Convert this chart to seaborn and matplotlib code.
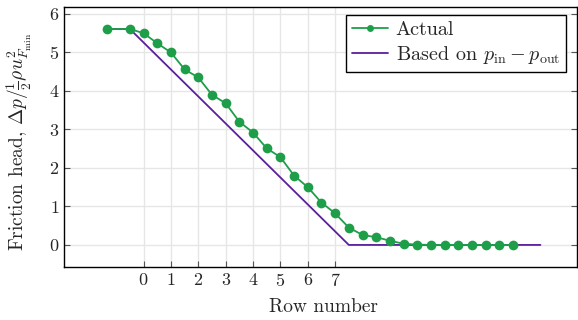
import numpy as np
import pandas as pd
import matplotlib
matplotlib.use('Agg')
import matplotlib.pyplot as plt
import seaborn as sns

# Actual friction head along the rows
actual_x = [-1.33, -0.5, 0, 0.5, 1, 1.5, 2, 2.5, 3, 3.5, 4, 4.5, 5, 5.5, 6, 6.5, 7,
            7.5, 8, 8.5, 9, 9.5, 10, 10.5, 11, 11.5, 12, 12.5, 13, 13.5]
actual_y = [5.61, 5.61, 5.50, 5.24, 5.00, 4.56, 4.35, 3.90, 3.68, 3.20, 2.92, 2.51,
            2.28, 1.80, 1.50, 1.10, 0.82, 0.45, 0.26, 0.20, 0.11, 0.03, 0.01, 0.0,
            0.0, 0.0, 0.0, 0.0, 0.0, 0.0]

# Based on p_in - p_out
based_x = [-1.33, -0.5, 7.5, 14.5]
based_y = [5.61, 5.61, 0.0, 0.0]

row_ticks = [0, 1, 2, 3, 4, 5, 6, 7]
head_ticks = [0, 1, 2, 3, 4, 5, 6]

sns.set_style('white')
plt.rcParams['font.family'] = 'serif'
plt.rcParams['font.serif'] = ['cmr10']
plt.rcParams['mathtext.fontset'] = 'cm'
plt.rcParams['axes.formatter.use_mathtext'] = True
plt.rcParams['font.size'] = 13

green = '#1f9e4a'
purple = '#5b1f9c'

fig = plt.figure(figsize=(5.78, 3.2), dpi=100)
ax = fig.add_axes([0.111, 0.166, 0.887, 0.812])

df_actual = pd.DataFrame({'x': actual_x, 'y': actual_y})
df_based = pd.DataFrame({'x': based_x, 'y': based_y})

sns.lineplot(data=df_actual, x='x', y='y', ax=ax, color=green, lw=1.3,
             marker='o', markersize=7, markeredgewidth=0, label='Actual', zorder=3)
sns.lineplot(data=df_based, x='x', y='y', ax=ax, color=purple, lw=1.3,
             label=r'Based on $p_{\rm in} - p_{\rm out}$', zorder=2)

ax.set_xlim(-2.9, 15.83)
ax.set_ylim(-0.57, 6.18)
ax.set_xticks(row_ticks)
ax.set_yticks(head_ticks)
ax.grid(True, color='#e6e6e6', lw=1)
ax.tick_params(direction='in', length=4, color='#555555', labelsize=13,
               left=True, right=True, bottom=True, top=False)
for s in ax.spines.values():
    s.set_color('black')
    s.set_linewidth(1)

ax.set_xlabel('Row number', fontsize=14)
ax.set_ylabel(r'Friction head, $\Delta p/\frac{1}{2}\rho u^2_{F_{\min}}$', fontsize=14)
ax.xaxis.set_label_coords(0.505, -0.12)
ax.yaxis.set_label_coords(-0.058, 0.48)

leg = ax.legend(loc='upper right', fontsize=14.5, frameon=True, fancybox=False,
                edgecolor='black', framealpha=1, borderpad=0.3, handlelength=1.8,
                handletextpad=0.35, labelspacing=0.25, borderaxespad=0,
                bbox_to_anchor=(0.979, 0.97))
leg.get_frame().set_linewidth(1)
leg.legend_handles[0].set_markersize(5)

fig.savefig('out.png', dpi=100)
